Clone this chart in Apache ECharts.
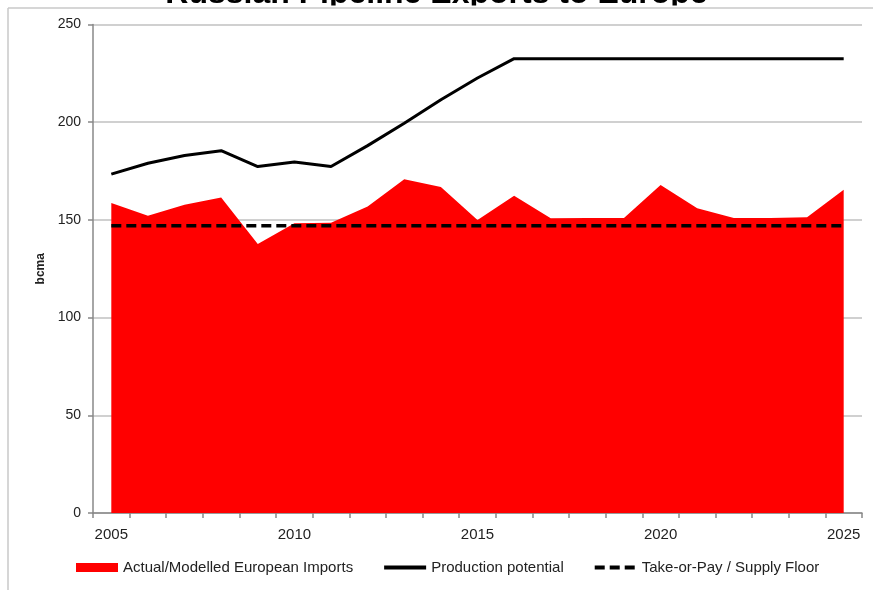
<!DOCTYPE html>
<html>
<head>
<meta charset="utf-8">
<script src="https://cdn.jsdelivr.net/npm/echarts@6/dist/echarts.min.js"></script>
<style>
html,body{margin:0;padding:0;background:#fff;}
#chart{width:873px;height:590px;}
</style>
</head>
<body>
<div id="chart"></div>
<script>
const years = ['2005','2006','2007','2008','2009','2010','2011','2012','2013','2014','2015','2016','2017','2018','2019','2020','2021','2022','2023','2024','2025'];
const importsData = [158.6,152.1,157.7,161.4,137.7,148.3,148.6,156.8,170.8,166.8,150.0,162.3,150.9,151.0,151.0,167.8,156.0,151.0,151.0,151.4,165.4];
const productionData = [173.4,179.0,183.0,185.4,177.3,179.6,177.3,188.0,199.5,211.5,222.6,232.5,232.5,232.5,232.5,232.5,232.5,232.5,232.5,232.5,232.5];
const floorData = [147,147,147,147,147,147,147,147,147,147,147,147,147,147,147,147,147,147,147,147,147];
const yTicks = [0,50,100,150,200,250];

const FONT = '"Liberation Sans", Arial, sans-serif';
const chart = echarts.init(document.getElementById('chart'), null, {renderer:'canvas'});
chart.setOption({
  animation:false,
  backgroundColor:'#fff',
  textStyle:{fontFamily:FONT},
  title:{
    text:'Russian Pipeline Exports to Europe',
    left:'center',
    top:-27,
    z:1,
    textStyle:{fontSize:32,fontWeight:'bold',color:'#000',fontFamily:FONT}
  },
  graphic:[
    {type:'rect',shape:{x:0,y:5.6,width:873,height:11},style:{fill:'#fff'},z:100,silent:true},
    {type:'line',shape:{x1:8,y1:8,x2:873,y2:8},style:{stroke:'#c8c8c8',lineWidth:1.5},z:101,silent:true},
    {type:'line',shape:{x1:8,y1:8,x2:8,y2:590},style:{stroke:'#c8c8c8',lineWidth:1.5},z:101,silent:true}
  ],
  grid:{left:93,right:11,top:24.5,bottom:77,containLabel:false},
  legend:{
    left:76,
    top:560,
    padding:0,
    itemWidth:42,
    itemHeight:9,
    itemGap:29,
    textStyle:{fontSize:15,color:'#222',fontFamily:FONT},
    data:[
      {name:'Actual/Modelled European Imports',icon:'rect'},
      {name:'Production potential',itemStyle:{opacity:0},lineStyle:{width:4}},
      {name:'Take-or-Pay / Supply Floor',itemStyle:{opacity:0},lineStyle:{width:4}}
    ]
  },
  xAxis:{
    type:'category',
    data:years,
    boundaryGap:true,
    axisLine:{show:true,lineStyle:{color:'#888',width:1.5}},
    axisTick:{show:true,interval:0,alignWithLabel:false,length:5,lineStyle:{color:'#888',width:1.5}},
    axisLabel:{interval:4,margin:14,fontSize:15,color:'#222',fontFamily:FONT},
    splitLine:{show:false}
  },
  yAxis:{
    type:'value',
    min:0,max:250,interval:50,
    name:'bcma',
    nameLocation:'middle',
    nameGap:46,
    nameTextStyle:{fontSize:12,fontWeight:'bold',color:'#222',fontFamily:FONT},
    axisLine:{show:true,lineStyle:{color:'#888',width:1.5}},
    axisTick:{show:true,length:5,lineStyle:{color:'#888',width:1.5}},
    axisLabel:{margin:12,fontSize:14,color:'#222',fontFamily:FONT,
      formatter:function(v){return yTicks.indexOf(v)>=0?String(v):'';}},
    splitLine:{show:true,lineStyle:{color:'#c0c0c0',width:1.5}}
  },
  series:[
    {
      name:'Actual/Modelled European Imports',
      type:'line',
      data:importsData,
      symbol:'none',
      itemStyle:{color:'#ff0000'},
      lineStyle:{width:0,color:'#ff0000'},
      areaStyle:{color:'#ff0000',opacity:1},
      z:1
    },
    {
      name:'Production potential',
      type:'line',
      data:productionData,
      symbol:'none',
      itemStyle:{color:'#000'},
      lineStyle:{width:3,color:'#000'},
      z:3
    },
    {
      name:'Take-or-Pay / Supply Floor',
      type:'line',
      data:floorData,
      symbol:'none',
      itemStyle:{color:'#000'},
      lineStyle:{width:3.5,color:'#000',type:[10,5]},
      z:2
    }
  ]
});
</script>
</body>
</html>
